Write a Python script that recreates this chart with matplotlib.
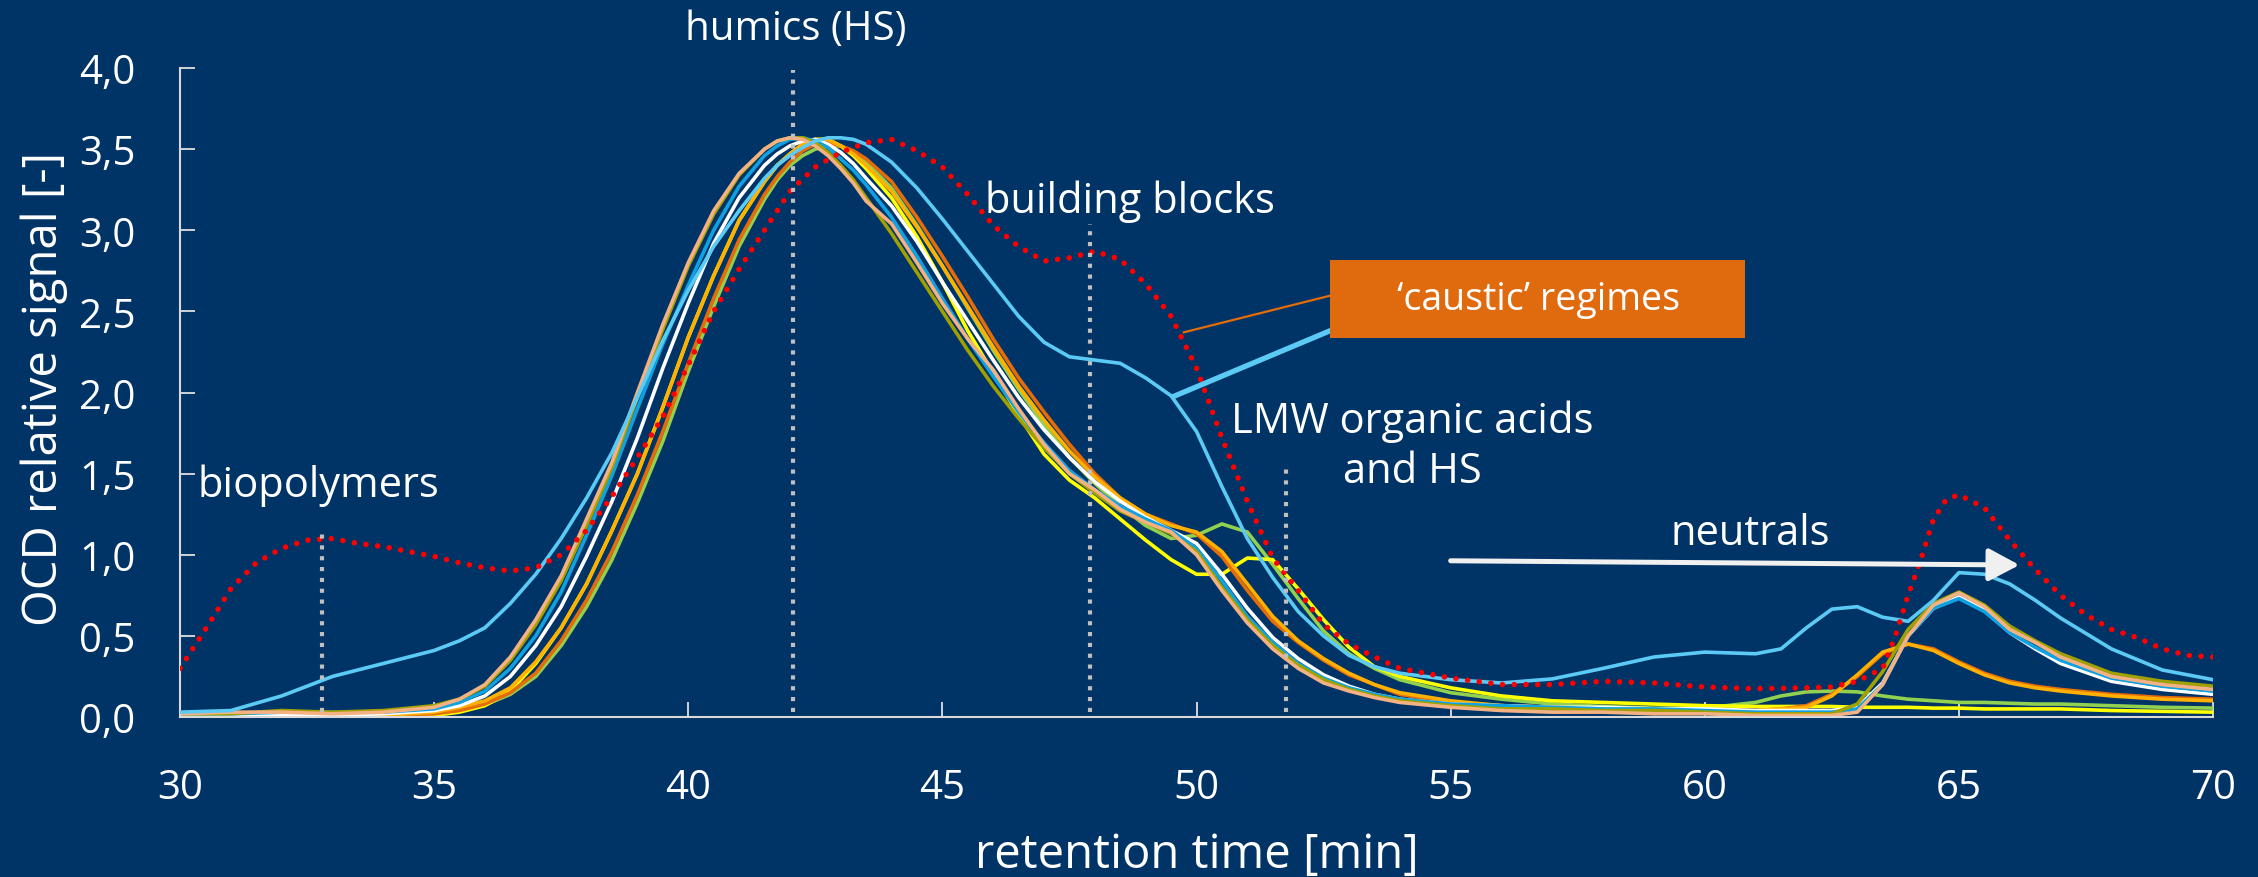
import matplotlib
matplotlib.use('Agg')
import matplotlib.pyplot as plt
from matplotlib.patches import Rectangle

plt.rcParams['font.family'] = ['Open Sans', 'DejaVu Sans']

# retention time grid shared by the sample curves [min]
t = [30, 31, 32, 33, 34, 35,
     35.5, 36, 36.5, 37, 37.5, 38, 38.5, 39, 39.5, 40,
     40.5, 41, 41.5, 41.75, 42, 42.25, 42.5, 42.75, 43, 43.25, 43.5, 44, 44.5, 45,
     45.5, 46, 46.5, 47, 47.5, 48, 48.5, 49, 49.5, 50,
     50.5, 51, 51.5, 52, 52.5, 53, 53.5, 54,
     55, 56, 57, 58, 59, 60, 61,
     61.5, 62, 62.5, 63, 63.5, 64, 64.5, 65, 65.5, 66,
     66.5, 67, 68, 69, 70]

peach = [0.02, 0.03, 0.03, 0.02, 0.03, 0.06,
         0.11, 0.20, 0.37, 0.60, 0.87, 1.22, 1.57, 2.00, 2.42, 2.80,
         3.12, 3.35, 3.50, 3.55, 3.57, 3.56, 3.52, 3.46, 3.38, 3.29, 3.18, 3.04, 2.80, 2.55,
         2.33, 2.14, 1.90, 1.68, 1.50, 1.40, 1.28, 1.20, 1.14, 1.00,
         0.78, 0.58, 0.42, 0.30, 0.21, 0.16, 0.12, 0.09,
         0.06, 0.04, 0.03, 0.03, 0.02, 0.02, 0.01,
         0.01, 0.01, 0.01, 0.03, 0.20, 0.50, 0.69, 0.765, 0.68, 0.54,
         0.46, 0.37, 0.25, 0.20, 0.17]

olive = [0.02, 0.02, 0.04, 0.03, 0.04, 0.07,
         0.11, 0.19, 0.35, 0.57, 0.84, 1.18, 1.54, 1.97, 2.39, 2.78,
         3.10, 3.34, 3.50, 3.55, 3.57, 3.57, 3.54, 3.48, 3.40, 3.31, 3.20, 2.98, 2.74, 2.50,
         2.26, 2.04, 1.84, 1.66, 1.50, 1.38, 1.27, 1.20, 1.13, 1.02,
         0.80, 0.60, 0.44, 0.32, 0.23, 0.17, 0.13, 0.10,
         0.07, 0.05, 0.05, 0.04, 0.04, 0.03, 0.02,
         0.02, 0.02, 0.02, 0.08, 0.28, 0.54, 0.70, 0.77, 0.69, 0.56,
         0.47, 0.39, 0.27, 0.22, 0.19]

blue = [0.02, 0.02, 0.03, 0.03, 0.03, 0.05,
        0.09, 0.16, 0.30, 0.50, 0.77, 1.12, 1.49, 1.90, 2.30, 2.66,
        3.00, 3.27, 3.46, 3.52, 3.56, 3.57, 3.55, 3.51, 3.44, 3.37, 3.28, 3.08, 2.84, 2.58,
        2.33, 2.10, 1.88, 1.69, 1.52, 1.40, 1.30, 1.22, 1.15, 1.04,
        0.84, 0.62, 0.46, 0.33, 0.24, 0.18, 0.14, 0.11,
        0.08, 0.07, 0.06, 0.05, 0.05, 0.04, 0.03,
        0.03, 0.03, 0.03, 0.05, 0.20, 0.50, 0.67, 0.73, 0.65, 0.52,
        0.43, 0.35, 0.24, 0.19, 0.16]

white = [0.00, 0.01, 0.01, 0.01, 0.02, 0.04,
         0.07, 0.13, 0.25, 0.44, 0.68, 0.99, 1.33, 1.72, 2.15, 2.55,
         2.92, 3.20, 3.40, 3.47, 3.52, 3.55, 3.56, 3.53, 3.48, 3.41, 3.32, 3.15, 2.93, 2.68,
         2.44, 2.20, 1.97, 1.77, 1.60, 1.45, 1.33, 1.23, 1.15, 1.07,
         0.88, 0.67, 0.49, 0.36, 0.26, 0.19, 0.14, 0.11,
         0.08, 0.07, 0.06, 0.06, 0.05, 0.05, 0.04,
         0.04, 0.04, 0.04, 0.06, 0.21, 0.50, 0.67, 0.74, 0.66, 0.52,
         0.42, 0.33, 0.22, 0.17, 0.14]

yellow = [0.00, 0.00, 0.00, 0.00, 0.00, 0.01,
          0.03, 0.07, 0.16, 0.33, 0.55, 0.82, 1.15, 1.50, 1.91, 2.34,
          2.72, 3.06, 3.30, 3.40, 3.47, 3.53, 3.56, 3.56, 3.52, 3.46, 3.38, 3.20, 2.96, 2.68,
          2.38, 2.12, 1.86, 1.62, 1.46, 1.35, 1.22, 1.09, 0.97, 0.88,
          0.88, 0.98, 0.97, 0.79, 0.60, 0.43, 0.31, 0.25,
          0.18, 0.13, 0.10, 0.09, 0.08, 0.07, 0.065,
          0.065, 0.065, 0.065, 0.06, 0.06, 0.06, 0.055, 0.055, 0.05, 0.05,
          0.05, 0.05, 0.04, 0.035, 0.03]

orange = [0.00, 0.00, 0.01, 0.01, 0.01, 0.03,
          0.06, 0.10, 0.18, 0.34, 0.55, 0.82, 1.15, 1.50, 1.91, 2.34,
          2.72, 3.06, 3.30, 3.40, 3.47, 3.53, 3.56, 3.56, 3.52, 3.47, 3.40, 3.24, 3.02, 2.78,
          2.53, 2.28, 2.04, 1.83, 1.64, 1.48, 1.35, 1.25, 1.18, 1.14,
          1.02, 0.82, 0.62, 0.47, 0.36, 0.27, 0.20, 0.15,
          0.10, 0.07, 0.06, 0.05, 0.04, 0.04, 0.04,
          0.05, 0.06, 0.13, 0.26, 0.40, 0.45, 0.41, 0.33, 0.26, 0.21,
          0.18, 0.16, 0.13, 0.11, 0.10]

dark_orange = [0.00, 0.00, 0.00, 0.01, 0.01, 0.02,
               0.04, 0.08, 0.15, 0.27, 0.47, 0.72, 1.02, 1.37, 1.76, 2.18,
               2.58, 2.94, 3.22, 3.33, 3.42, 3.49, 3.53, 3.54, 3.52, 3.49, 3.44, 3.30, 3.08, 2.84,
               2.59, 2.33, 2.09, 1.88, 1.68, 1.50, 1.35, 1.25, 1.19, 1.13,
               0.99, 0.78, 0.59, 0.46, 0.35, 0.26, 0.20, 0.14,
               0.09, 0.07, 0.06, 0.05, 0.05, 0.04, 0.04,
               0.05, 0.07, 0.14, 0.25, 0.39, 0.45, 0.42, 0.34, 0.27, 0.22,
               0.19, 0.17, 0.14, 0.12, 0.11]

green = [0.00, 0.00, 0.00, 0.00, 0.01, 0.02,
         0.04, 0.075, 0.14, 0.25, 0.44, 0.68, 0.97, 1.32, 1.70, 2.13,
         2.53, 2.90, 3.19, 3.31, 3.40, 3.46, 3.50, 3.52, 3.52, 3.48, 3.42, 3.26, 3.03, 2.78,
         2.52, 2.26, 2.02, 1.80, 1.60, 1.44, 1.30, 1.18, 1.10, 1.12,
         1.19, 1.14, 0.94, 0.73, 0.53, 0.39, 0.30, 0.23,
         0.15, 0.11, 0.08, 0.065, 0.055, 0.055, 0.09,
         0.13, 0.155, 0.16, 0.155, 0.13, 0.11, 0.10, 0.09, 0.09, 0.085,
         0.08, 0.08, 0.07, 0.06, 0.055]

# caustic regime (solid light blue)
light_blue = [0.03, 0.04, 0.13, 0.25, 0.33, 0.41,
              0.47, 0.55, 0.70, 0.88, 1.10, 1.35, 1.63, 1.97, 2.32, 2.63,
              2.90, 3.12, 3.32, 3.40, 3.46, 3.51, 3.55, 3.57, 3.57, 3.56, 3.53, 3.42, 3.26, 3.07,
              2.87, 2.67, 2.47, 2.31, 2.22, 2.20, 2.18, 2.09, 1.98, 1.76,
              1.42, 1.10, 0.86, 0.65, 0.50, 0.38, 0.31, 0.27,
              0.23, 0.21, 0.235, 0.30, 0.37, 0.40, 0.39,
              0.42, 0.55, 0.665, 0.68, 0.615, 0.59, 0.72, 0.89, 0.88, 0.82,
              0.72, 0.61, 0.42, 0.29, 0.23]

# caustic regime (red dotted)
red_t = [30, 30.5, 31, 31.5, 32, 32.5, 33, 33.5, 34,
         34.5, 35, 35.5, 36, 36.5, 37, 37.5, 38, 38.5, 39,
         39.5, 40, 40.5, 41, 41.5, 42, 42.5, 43, 43.5, 44,
         44.5, 45, 45.5, 46, 46.5, 47, 47.5, 48, 48.5, 49,
         49.5, 50, 50.5, 51, 51.5, 52, 52.5, 53, 53.5, 54,
         55, 56, 57, 58, 59, 60, 61, 62,
         62.5, 63, 63.5,
         63.75, 64, 64.25, 64.5, 64.75, 65,
         65.5, 66, 66.5, 67, 67.5, 68, 68.5, 69, 69.5, 70]
red_v = [0.30, 0.54, 0.79, 0.95, 1.04, 1.09, 1.10, 1.07, 1.05,
         1.02, 0.99, 0.95, 0.92, 0.90, 0.92, 1.00, 1.15, 1.36, 1.60,
         1.85, 2.17, 2.50, 2.76, 3.00, 3.24, 3.39, 3.48, 3.54, 3.56,
         3.49, 3.39, 3.22, 3.03, 2.90, 2.81, 2.83, 2.87, 2.82, 2.67,
         2.47, 2.15, 1.72, 1.33, 0.98, 0.78, 0.57, 0.45, 0.37, 0.30,
         0.24, 0.20, 0.20, 0.22, 0.21, 0.185, 0.175, 0.18,
         0.185, 0.22, 0.30,
         0.50, 0.75, 0.97, 1.22, 1.34, 1.37,
         1.29, 1.09, 0.91, 0.75, 0.63, 0.54, 0.49, 0.42, 0.38, 0.37]

x_ticks = [30, 35, 40, 45, 50, 55, 60, 65, 70]
y_ticks = [0, 0.5, 1.0, 1.5, 2.0, 2.5, 3.0, 3.5, 4.0]
y_tick_labels = ['0,0', '0,5', '1,0', '1,5', '2,0', '2,5', '3,0', '3,5', '4,0']

# fraction markers: position and top of the dotted line
fraction_t = [32.8, 42.07, 47.9, 51.77]
fraction_top = [1.16, 3.99, 3.04, 1.55]

bg = '#003366'
fig = plt.figure(figsize=(22.58, 8.78), dpi=100, facecolor=bg)
ax = fig.add_axes([0.0797, 0.1822, 0.9004, 0.7392])
ax.set_facecolor(bg)
ax.set_xlim(30, 70)
ax.set_ylim(0, 4)

lw = 2.6
curves = [
    (green, '#92D050'),
    (yellow, '#FFFF00'),
    (dark_orange, '#E46C0A'),
    (orange, '#FFB000'),
    (white, '#FFFFFF'),
    (blue, '#0EA2E2'),
    (olive, '#A0A000'),
    (peach, '#F4B183'),
]
for vals, col in curves:
    ax.plot(t, vals, color=col, lw=lw, solid_joinstyle='round', zorder=2)
ax.plot(t, light_blue, color='#5BCBF5', lw=lw, solid_joinstyle='round', zorder=3)
ax.plot(red_t, red_v, color='#FF0000', lw=4.0, linestyle=(0, (0.01, 2.1)),
        dash_capstyle='round', zorder=3)

for xt, top in zip(fraction_t, fraction_top):
    ax.plot([xt, xt], [0.03, top], color='#BFBFBF', lw=3.0,
            linestyle=(0, (1.0, 1.6)), dash_capstyle='butt', zorder=4)

# labels of the fractions
fs = 30
ax.text(42.12, 4.18, 'humics (HS)', color='white', fontsize=29, ha='center', va='baseline', clip_on=False)
ax.text(48.69, 3.11, 'building blocks', color='white', fontsize=fs, ha='center', va='baseline')
ax.text(30.35, 1.364, 'biopolymers', color='white', fontsize=fs, ha='left', va='baseline')
ax.text(54.24, 1.755, 'LMW organic acids', color='white', fontsize=fs, ha='center', va='baseline')
ax.text(54.24, 1.447, 'and HS', color='white', fontsize=fs, ha='center', va='baseline')
ax.text(60.89, 1.066, 'neutrals', color='white', fontsize=fs, ha='center', va='baseline')

ax.annotate('', xy=(66.19, 0.937), xytext=(55.0, 0.963),
            arrowprops=dict(arrowstyle='-|>,head_length=0.47,head_width=0.25',
                            lw=3.6, color='#F0F0F0', mutation_scale=40,
                            shrinkA=0, shrinkB=0), zorder=5)

# callout box
ax.plot([52.63, 49.75], [2.597, 2.371], color='#E46C0A', lw=1.6, zorder=5)
ax.plot([52.63, 49.58], [2.381, 1.98], color='#5BCBF5', lw=3.8, zorder=5)
ax.add_patch(Rectangle((52.63, 2.338), 60.79 - 52.63, 2.817 - 2.338,
                       facecolor='#E06A0E', edgecolor='none', zorder=6))
ax.text(56.72, 2.577, '\u2018caustic\u2019 regimes', color='white', fontsize=27,
        ha='center', va='center', zorder=7)

ax.set_xticks(x_ticks)
ax.set_yticks(y_ticks)
ax.set_yticklabels(y_tick_labels)
ax.tick_params(axis='both', direction='in', length=11, width=1.3,
               colors='#E0E0E0', labelcolor='white', labelsize=29)
ax.tick_params(axis='y', pad=32)
ax.tick_params(axis='x', pad=36)
for side in ['top', 'right']:
    ax.spines[side].set_visible(False)
for side in ['left', 'bottom']:
    ax.spines[side].set_color('#D9D9D9')
    ax.spines[side].set_linewidth(1.5)

fig.text(0.0195, 0.557, 'OCD relative signal [-]', color='white', fontsize=34,
         rotation=90, ha='center', va='center')
fig.text(0.530, 0.0114, 'retention time [min]', color='white', fontsize=34,
         ha='center', va='baseline')

fig.savefig('out.png', dpi=100, facecolor=bg)
